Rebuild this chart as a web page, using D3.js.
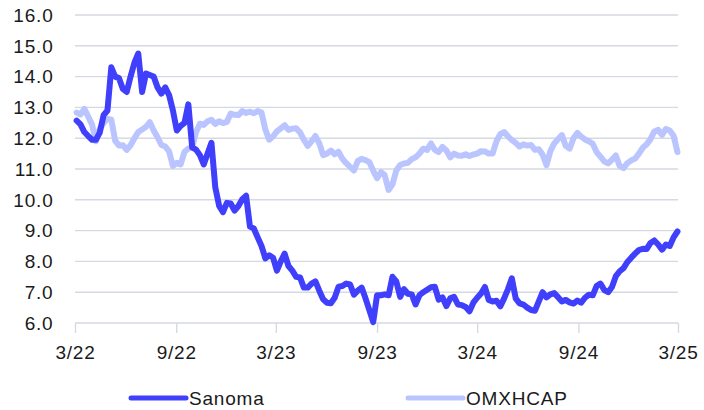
<!DOCTYPE html>
<html>
<head>
<meta charset="utf-8">
<script src="https://cdn.jsdelivr.net/npm/d3@7"></script>
<style>
  body { margin: 0; background: #fff; }
  text { font-family: "Liberation Sans", Arial, sans-serif; fill: #1a1a1a; letter-spacing: 0.8px; }
</style>
</head>
<body>
<div id="chart"></div>
<script>
// weekly closes, first week ending 2022-03-04
const firstWeek = "2022-03-04";
const sanoma = [
  12.57, 12.45, 12.2, 12.07, 11.95, 11.95, 12.18, 12.75, 12.9, 14.3,
  14.0, 13.95, 13.6, 13.5, 14.0, 14.45, 14.75, 13.5, 14.1, 14.05,
  14.0, 13.65, 13.45, 13.65, 13.4, 12.9, 12.25, 12.4, 12.5, 13.1,
  11.7, 11.63, 11.45, 11.15, 11.5, 11.85, 10.4, 9.8, 9.6, 9.9,
  9.88, 9.65, 9.8, 10.02, 10.13, 9.13, 9.07, 8.78, 8.5, 8.1,
  8.2, 8.12, 7.7, 8.0, 8.25, 7.85, 7.7, 7.5, 7.48, 7.15,
  7.15, 7.28, 7.35, 7.05, 6.77, 6.66, 6.64, 6.82, 7.18, 7.2,
  7.28, 7.25, 6.92, 7.05, 7.15, 6.8, 6.42, 6.03, 6.9, 6.9,
  6.93, 6.9, 7.5, 7.35, 6.85, 7.1, 6.95, 6.93, 6.6, 6.9,
  7.0, 7.08, 7.16, 7.18, 6.76, 6.83, 6.55, 6.8, 6.85, 6.6,
  6.58, 6.52, 6.38, 6.66, 6.82, 6.96, 7.17, 6.75, 6.7, 6.72,
  6.54, 6.8, 7.1, 7.45, 6.8, 6.64, 6.6, 6.5, 6.42, 6.4,
  6.7, 7.0, 6.83, 6.93, 6.97, 6.84, 6.7, 6.75, 6.67, 6.63,
  6.73, 6.66, 6.82, 6.92, 6.9, 7.2, 7.28, 7.07, 7.0, 7.17,
  7.52, 7.68, 7.78, 7.98, 8.12, 8.25, 8.37, 8.41, 8.4, 8.6,
  8.68, 8.55, 8.38, 8.55, 8.5, 8.78, 8.97
];
const omxhcap = [
  12.83, 12.77, 12.95, 12.7, 12.44, 11.9, 12.3, 12.5, 12.63, 12.6,
  11.92, 11.76, 11.77, 11.62, 11.77, 12.0, 12.2, 12.28, 12.37, 12.52,
  12.25, 12.03, 11.78, 11.73, 11.57, 11.1, 11.2, 11.15, 11.56, 11.66,
  11.7, 12.2, 12.47, 12.43, 12.55, 12.6, 12.46, 12.55, 12.49, 12.53,
  12.8, 12.76, 12.75, 12.88, 12.82, 12.86, 12.81, 12.88, 12.83, 12.28,
  11.95, 12.06, 12.22, 12.32, 12.42, 12.27, 12.31, 12.32, 12.19, 11.95,
  11.75, 11.9, 12.07, 11.83, 11.45, 11.5, 11.6, 11.48, 11.56, 11.33,
  11.19, 11.07, 10.95, 11.26, 11.33, 11.29, 11.22, 10.95, 10.7, 10.9,
  10.8, 10.32, 10.5, 10.95, 11.13, 11.18, 11.2, 11.32, 11.38, 11.5,
  11.66, 11.62, 11.83, 11.62, 11.55, 11.72, 11.6, 11.38, 11.5, 11.44,
  11.43, 11.48, 11.42, 11.47, 11.5, 11.58, 11.57, 11.5, 11.5, 11.9,
  12.13, 12.2, 12.06, 11.94, 11.85, 11.73, 11.8, 11.76, 11.78, 11.62,
  11.64, 11.46, 11.12, 11.58, 11.83, 11.97, 12.1, 11.75, 11.66, 12.0,
  12.17, 12.05, 11.96, 11.9, 11.82, 11.55, 11.4, 11.25, 11.18, 11.3,
  11.44, 11.1, 11.03, 11.19, 11.28, 11.34, 11.5, 11.69, 11.8, 11.97,
  12.22, 12.27, 12.11, 12.3, 12.25, 12.08, 11.55
];
const yTicks = [6, 7, 8, 9, 10, 11, 12, 13, 14, 15, 16];
const xTicks = ["2022-03-01", "2022-09-01", "2023-03-01", "2023-09-01", "2024-03-01", "2024-09-01", "2025-03-01"];
const seriesNames = ["Sanoma", "OMXHCAP"];
const seriesColors = ["#3f3ffc", "#bac5ff"];

const width = 704, height = 410;
const fontSize = 19;
const parse = d3.timeParse("%Y-%m-%d");
const fmt = d3.timeFormat("%-m/%y");
const start = parse(firstWeek);

const x = d3.scaleTime()
  .domain([parse(xTicks[0]), parse(xTicks[xTicks.length - 1])])
  .range([75, 678]);
const y = d3.scaleLinear().domain([6, 16]).range([323, 15]);

const svg = d3.select("#chart").append("svg")
  .attr("width", width)
  .attr("height", height);

// horizontal grid
svg.append("g")
  .selectAll("line")
  .data(yTicks)
  .enter().append("line")
  .attr("x1", 75).attr("x2", 678)
  .attr("y1", d => y(d)).attr("y2", d => y(d))
  .attr("stroke", "#d6d9e2")
  .attr("stroke-width", 1.4);

// y labels
svg.append("g")
  .selectAll("text")
  .data(yTicks)
  .enter().append("text")
  .attr("x", 53.5)
  .attr("y", d => y(d))
  .attr("dy", "0.36em")
  .attr("text-anchor", "end")
  .attr("font-size", fontSize)
  .text(d => d.toFixed(1));

// x axis
const xAxis = d3.axisBottom(x)
  .tickValues(xTicks.map(parse))
  .tickFormat(fmt)
  .tickSize(10)
  .tickPadding(12.5);
const gx = svg.append("g")
  .attr("transform", `translate(0,${y(6)})`)
  .call(xAxis);
gx.select(".domain").remove();
gx.selectAll(".tick line").attr("stroke", "#d6d9e2").attr("stroke-width", 1.4);
gx.selectAll(".tick text")
  .attr("font-size", fontSize)
  .attr("font-family", "Liberation Sans, Arial, sans-serif")
  .attr("fill", "#1a1a1a");

const line = d3.line()
  .x((d, i) => x(d3.timeDay.offset(start, 7 * i)))
  .y(d => y(d));

// OMXHCAP drawn first so Sanoma sits on top
[omxhcap, sanoma].forEach((s, k) => {
  svg.append("path")
    .datum(s)
    .attr("fill", "none")
    .attr("stroke", seriesColors[1 - k])
    .attr("stroke-width", 6)
    .attr("stroke-linejoin", "round")
    .attr("stroke-linecap", "round")
    .attr("d", line);
});

// legend
const legend = svg.append("g");
const legendX = [131, 408];
seriesNames.forEach((name, k) => {
  legend.append("line")
    .attr("x1", legendX[k]).attr("x2", legendX[k] + 55)
    .attr("y1", 398).attr("y2", 398)
    .attr("stroke", seriesColors[k])
    .attr("stroke-width", 5)
    .attr("stroke-linecap", "round");
  legend.append("text")
    .attr("x", legendX[k] + 58)
    .attr("y", 405)
    .attr("font-size", fontSize)
    .text(name);
});
</script>
</body>
</html>
